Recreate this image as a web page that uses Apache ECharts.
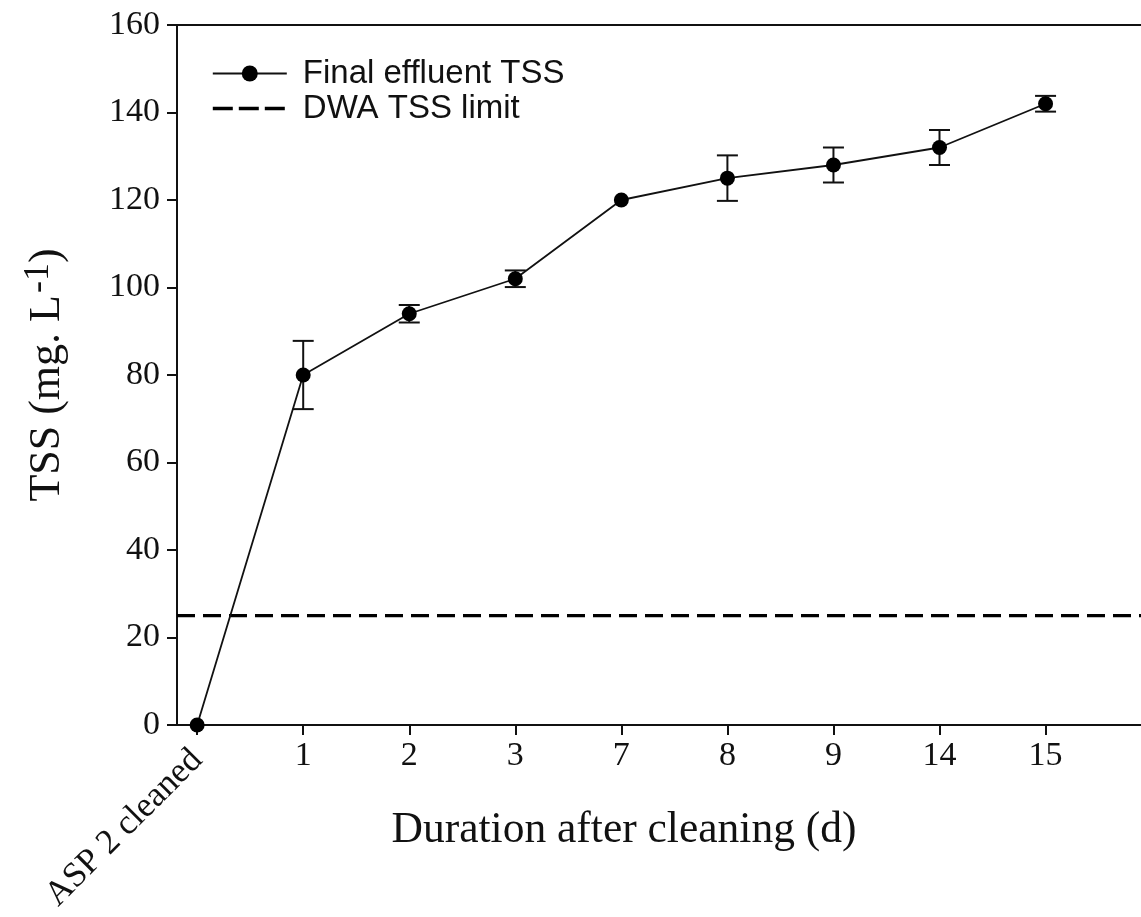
<!DOCTYPE html>
<html>
<head>
<meta charset="utf-8">
<script src="https://cdn.jsdelivr.net/npm/echarts@6/dist/echarts.min.js"></script>
<style>
  html, body { margin: 0; padding: 0; background: #fff; }
  #chart { width: 1141px; height: 917px; }
</style>
</head>
<body>
<div id="chart"></div>
<script>
// Sampling days after the aeration tank was cleaned
const categories = ['ASP 2 cleaned', '1', '2', '3', '7', '8', '9', '14', '15'];
// Mean final effluent TSS (mg/L) and its standard deviation
const tssMean = [0, 80, 94, 102, 120, 125, 128, 132, 142];
const tssErr = [0, 7.8, 2.0, 1.9, 0, 5.2, 4, 4, 1.8];
// Discharge limit for TSS (mg/L)
const tssLimit = 25;
// y-axis ticks
const yTicks = [0, 20, 40, 60, 80, 100, 120, 140, 160];

const X_MIN = -0.19, X_MAX = 8.9;
const positions = categories.map((_, i) => i);

const ink = '#111';
const serif = '"Liberation Serif", "Times New Roman", serif';
const sans = '"Liberation Sans", Arial, sans-serif';

const chart = echarts.init(document.getElementById('chart'), null, { renderer: 'canvas' });

const meanData = positions.map((x, i) => [x, tssMean[i]]);
const errData = positions.map((x, i) => [x, tssMean[i] - tssErr[i], tssMean[i] + tssErr[i]]);

chart.setOption({
  backgroundColor: '#fff',
  animation: false,
  grid: { left: 177, right: 0, top: 25, bottom: 192, containLabel: false },
  legend: {
    orient: 'vertical',
    left: 206,
    top: 51,
    itemWidth: 74,
    itemHeight: 20,
    itemGap: 0,
    data: [
      { name: 'Final effluent TSS', lineStyle: { width: 2 } },
      { name: 'DWA TSS limit', itemStyle: { opacity: 0 }, lineStyle: { width: 3.6, type: [20, 6] } }
    ],
    textStyle: { fontFamily: sans, fontSize: 33, color: ink, padding: [0, 0, 0, 11], lineHeight: 35 }
  },
  xAxis: [{
    type: 'value',
    position: 'bottom',
    min: X_MIN,
    max: X_MAX,
    splitLine: { show: false },
    axisLine: { show: true, onZero: false, lineStyle: { color: ink, width: 2 } },
    axisTick: { show: true, inside: false, length: 10, lineStyle: { color: ink, width: 2 }, customValues: positions },
    axisLabel: {
      show: true,
      customValues: positions,
      margin: 14,
      fontFamily: serif,
      fontSize: 34,
      color: ink,
      formatter: v => Math.round(v) === 0 ? '' : categories[Math.round(v)]
    },
    name: 'Duration after cleaning (d)',
    nameLocation: 'middle',
    nameGap: 84,
    nameTextStyle: { fontFamily: serif, fontSize: 43.5, color: ink, padding: [0, 70, 0, 0] }
  }, {
    // rotated label for the cleaning day
    type: 'value',
    position: 'bottom',
    min: X_MIN,
    max: X_MAX,
    splitLine: { show: false },
    axisLine: { show: false },
    axisTick: { show: false },
    axisLabel: {
      show: true,
      customValues: [0],
      rotate: 45,
      margin: 30,
      fontFamily: serif,
      fontSize: 35,
      color: ink,
      formatter: v => categories[Math.round(v)]
    }
  }, {
    // top frame line
    type: 'value',
    position: 'top',
    min: X_MIN,
    max: X_MAX,
    splitLine: { show: false },
    axisLine: { show: true, onZero: false, lineStyle: { color: ink, width: 2 } },
    axisTick: { show: false },
    axisLabel: { show: false }
  }],
  yAxis: {
    type: 'value',
    min: yTicks[0],
    max: yTicks[yTicks.length - 1],
    interval: 20,
    splitLine: { show: false },
    axisLine: { show: true, onZero: false, lineStyle: { color: ink, width: 2 } },
    axisTick: { show: true, inside: false, length: 10, lineStyle: { color: ink, width: 2 } },
    axisLabel: { margin: 17, fontFamily: serif, fontSize: 34, color: ink },
    name: '{t|TSS (mg. L}{s|-1}{t|)}',
    nameLocation: 'middle',
    nameRotate: 90,
    nameGap: 108,
    nameTextStyle: {
      rich: {
        t: { fontFamily: serif, fontSize: 44, color: ink, verticalAlign: 'bottom' },
        s: { fontFamily: serif, fontSize: 36, color: ink, verticalAlign: 'top', padding: [0, 0, 12, 2] }
      }
    }
  },
  series: [{
    name: 'Final effluent TSS',
    type: 'line',
    data: meanData,
    symbol: 'circle',
    symbolSize: 15,
    z: 4,
    itemStyle: { color: '#000' },
    lineStyle: { color: '#111', width: 1.8 }
  }, {
    name: 'DWA TSS limit',
    type: 'line',
    data: [[X_MIN, tssLimit], [X_MAX, tssLimit]],
    symbol: 'none',
    z: 2,
    itemStyle: { color: 'rgba(0,0,0,0)' },
    lineStyle: { color: '#000', width: 3.2, type: [18, 8] }
  }, {
    name: 'sd',
    type: 'custom',
    data: errData,
    z: 3,
    renderItem: (params, api) => {
      const x = api.value(0);
      const loV = api.value(1), hiV = api.value(2);
      if (hiV - loV <= 0) return { type: 'group', children: [] };
      const lo = api.coord([x, loV]);
      const hi = api.coord([x, hiV]);
      const half = 10.5;
      const style = { stroke: '#111', lineWidth: 2 };
      return {
        type: 'group',
        children: [
          { type: 'line', shape: { x1: lo[0], y1: lo[1], x2: hi[0], y2: hi[1] }, style },
          { type: 'line', shape: { x1: hi[0] - half, y1: hi[1], x2: hi[0] + half, y2: hi[1] }, style },
          { type: 'line', shape: { x1: lo[0] - half, y1: lo[1], x2: lo[0] + half, y2: lo[1] }, style }
        ]
      };
    }
  }]
});
</script>
</body>
</html>
